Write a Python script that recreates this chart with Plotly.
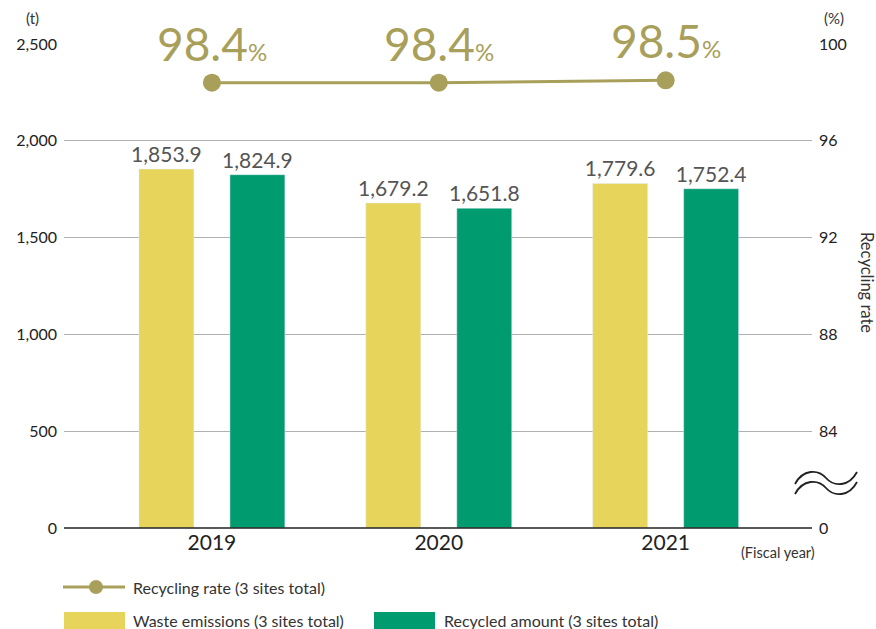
import plotly.graph_objects as go

years = ["2019", "2020", "2021"]
waste = [1853.9, 1679.2, 1779.6]
recycled = [1824.9, 1651.8, 1752.4]
rate = [98.4, 98.4, 98.5]
left_ticks = [0, 500, 1000, 1500, 2000, 2500]
left_labels = ["0", "500", "1,000", "1,500", "2,000", "2,500"]
right_ticks = [80, 84, 88, 92, 96, 100]
right_labels = ["0", "84", "88", "92", "96", "100"]

YELLOW = "#E6D55A"
GREEN = "#009B6E"
OLIVE = "#A8A05A"
FONT = "Lato"

# plot area in pixels
L, R, T, B = 64, 812, 44, 528
W, H = 876, 629
def px(x):
    return (x - L) / (R - L)
def py(y):
    return (B - y) / (B - T)

fig = go.Figure()
fig.add_bar(x=years, y=waste, marker_color=YELLOW, name="Waste emissions (3 sites total)",
            texttemplate="%{y:,.1f}", textposition="outside", constraintext="none",
            textfont=dict(size=21, color="#555", family=FONT), cliponaxis=False)
fig.add_bar(x=years, y=recycled, marker_color=GREEN, name="Recycled amount (3 sites total)",
            texttemplate="%{y:,.1f}", textposition="outside", constraintext="none",
            textfont=dict(size=21, color="#555", family=FONT), cliponaxis=False)
fig.add_scatter(x=years, y=rate, yaxis="y2", mode="lines+markers",
                line=dict(color=OLIVE, width=3), marker=dict(size=18, color=OLIVE),
                name="Recycling rate (3 sites total)", cliponaxis=False)

annotations = []
for i, r in enumerate(rate):
    annotations.append(dict(x=i, y=r, xref="x", yref="y2", yanchor="bottom", xanchor="center",
                            yshift=10, showarrow=False,
                            text=f"{r:.1f}<span style='font-size:24px'>%</span>",
                            font=dict(size=46, color=OLIVE, family=FONT)))

def txt(x, y, s, size, anchor="left", color="#333", angle=0):
    annotations.append(dict(x=px(x), y=py(y), xref="paper", yref="paper", text=s,
                            showarrow=False, xanchor=anchor, yanchor="middle",
                            font=dict(size=size, color=color, family=FONT), textangle=angle))

txt(32, 18, "(t)", 15, "center")
txt(834, 18, "(%)", 15, "center")
txt(778, 552, "(Fiscal year)", 14.5, "center")
txt(867, 282, "Recycling rate", 16.5, "center", angle=90)
txt(131, 587, "Recycling rate (3 sites total)", 16)
txt(131, 620, "Waste emissions (3 sites total)", 16)
txt(442, 620, "Recycled amount (3 sites total)", 16)

shapes = []
# baseline
shapes.append(dict(type="line", xref="paper", yref="paper", x0=0, x1=1, y0=0, y1=0,
                   line=dict(color="#222", width=1.5)))
# legend keys
shapes.append(dict(type="line", xref="paper", yref="paper", x0=px(63), x1=px(125), y0=py(587), y1=py(587),
                   line=dict(color=OLIVE, width=3)))
shapes.append(dict(type="circle", xref="paper", yref="paper", x0=px(89), x1=px(103), y0=py(580), y1=py(594),
                   fillcolor=OLIVE, line=dict(color=OLIVE, width=0)))
shapes.append(dict(type="rect", xref="paper", yref="paper", x0=px(64), x1=px(125), y0=py(612), y1=py(629),
                   fillcolor=YELLOW, line=dict(width=0)))
shapes.append(dict(type="rect", xref="paper", yref="paper", x0=px(374), x1=px(435), y0=py(612), y1=py(629),
                   fillcolor=GREEN, line=dict(width=0)))

# axis break symbol
def wave(dy):
    pts = [(795, 484), (803, 469), (818, 469), (826, 478), (834, 487), (849, 487), (857, 472)]
    p = [(px(x), py(y + dy)) for x, y in pts]
    return (f"M {p[0][0]},{p[0][1]} C {p[1][0]},{p[1][1]} {p[2][0]},{p[2][1]} {p[3][0]},{p[3][1]} "
            f"C {p[4][0]},{p[4][1]} {p[5][0]},{p[5][1]} {p[6][0]},{p[6][1]}")
for dy in (0, 10):
    shapes.append(dict(type="path", xref="paper", yref="paper", path=wave(dy),
                       line=dict(color="#222", width=1.8)))

fig.update_layout(
    width=W, height=H, margin=dict(l=L, r=W - R, t=T, b=H - B),
    paper_bgcolor="white", plot_bgcolor="white", showlegend=False,
    barmode="group", bargap=0.198, bargroupgap=0.396,
    font=dict(family=FONT, color="#333"),
    xaxis=dict(type="category", range=[-0.652, 2.645], showline=False, ticks="", showgrid=False,
               tickfont=dict(size=21, color="#222", family=FONT)),
    yaxis=dict(range=[0, 2500], tickvals=left_ticks, ticktext=left_labels, showgrid=True,
               gridcolor="#B0B0B0", gridwidth=1, zeroline=False, ticks="", showline=False,
               tickfont=dict(size=16, color="#222", family=FONT), ticklabelstandoff=6),
    yaxis2=dict(range=[80, 100], tickvals=right_ticks, ticktext=right_labels, overlaying="y",
                side="right", showgrid=False, zeroline=False, ticks="", showline=False,
                tickfont=dict(size=16, color="#222", family=FONT), ticklabelstandoff=6),
    annotations=annotations, shapes=shapes,
)
fig.write_html("out.html", config={"displayModeBar": False},
               post_script="document.body.style.margin='0';")
